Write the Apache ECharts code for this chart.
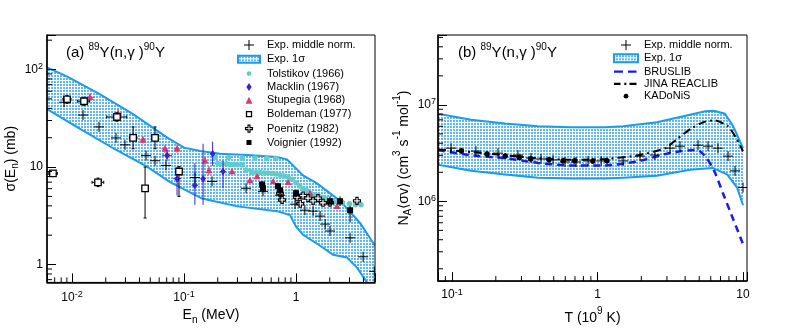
<!DOCTYPE html>
<html><head><meta charset="utf-8">
<script src="https://cdn.jsdelivr.net/npm/echarts@6/dist/echarts.min.js"></script>
<style>html,body{margin:0;padding:0;background:#fff}#c{width:789px;height:330px}</style>
</head><body><div id="c"></div>
<script>
const FONT = '"Liberation Sans", Arial, Helvetica, sans-serif';

// ---------- Panel (a): 89Y(n,g) cross section ----------
const rangeAX = [0.00598, 5.07];
const rangeAY = [0.656, 226];
const bandAUpper = [[0.00598,105],[0.009,85],[0.0178,55.7],[0.0351,34.9],[0.072,19.8],[0.1,15.8],[0.14,14.6],[0.21,13.7],[0.4,13.2],[0.67,12.7],[0.83,12.0],[0.94,10.4],[1.155,8.2],[1.54,6.8],[2.47,4.5],[3.73,2.67],[5.07,1.56]];
const bandALower = [[0.00598,39.3],[0.0118,24.6],[0.0237,15.4],[0.0467,10.1],[0.075,7.0],[0.145,4.75],[0.3,3.95],[0.676,3.53],[0.883,3.22],[1.0,2.45],[1.155,2.02],[1.64,1.56],[2.14,1.26],[2.85,1.18],[3.5,0.93],[4.3,0.656],[5.07,0.45]];
const expMiddleA = [[0.00849,46.2],[0.01254,34.1],[0.01741,25.8],[0.0247,19.9],[0.0297,16.9],[0.0458,13.1],[0.0551,11.6],[0.069,10.4],[0.1254,7.8],[0.178,7.12],[0.358,6.05],[0.507,5.63],[0.72,5.14],[0.98,4.16],[1.2,3.61],[1.42,3.53],[1.64,3.14],[1.82,2.6],[2.01,2.21],[3.04,1.88],[3.97,1.2],[5.0,0.85]];
const tolstikov = [[0.19,12.6],[0.25,12.5],[0.33,12.4],[0.43,12.4],[0.55,12.3],[0.66,12.2],
  [0.2,10.9],[0.22,10.8],[0.24,10.8],[0.26,10.7],[0.28,10.6],[0.3,10.6],[0.33,10.5],[0.36,9.3],[0.4,8.9],[0.44,8.8],[0.48,8.8],[0.52,8.7],[0.56,8.7],[0.61,8.6],[0.66,8.5],[0.72,8.3],[0.78,8.1],[0.85,7.9],[0.92,7.5],[1.0,6.9],[1.08,6.4],[1.16,6.0],[1.25,5.7],[1.35,5.4],[1.45,5.2],[1.57,5.1],[1.7,4.9],[1.85,4.7],[2.0,4.5],[2.2,4.4],[2.4,4.35],[2.6,4.3],[3.0,4.2],[3.4,4.1],[3.8,4.1]];
// [E, sigma, sigmaLow, sigmaHigh, ELow, EHigh]
const macklin = [[0.0705,13.1,11.5,15.0,0.064,0.078],[0.0866,7.6,5.1,10.1,0.08,0.094],[0.125,6.5,4.1,10.9,0.117,0.134],[0.148,7.6,4.1,17.3,0.14,0.157],[0.18,13.7,10.3,18.2,0.17,0.19],[0.223,9.0,6.05,11.6,0.21,0.236]];
const stupegia = [[0.01448,52.0,47,57,0.0132,0.0158],[0.02576,35.7,32,39.5,0.0237,0.028],[0.043,19.0,17.3,20.8,0.040,0.046],[0.0676,15.4,14,17,0.063,0.072],[0.0866,15.4,14,17,0.081,0.092],[0.154,11.6,10.5,12.8],[0.167,9.2,8.3,10.2],[0.268,9.0],[0.388,7.3],[0.449,8.0],[0.624,7.1],[0.849,7.0],[1.33,5.4],[1.74,4.26],[2.32,3.97]];
const boldeman = [[0.00676,8.6,8.1,9.1,0.0062,0.0074],[0.00902,49.5,45,54,0.0083,0.0098],[0.0128,47.3,43,52,0.0112,0.0143],[0.01706,6.97,6.3,7.7,0.0151,0.0192],[0.0252,32.6,29.5,36,0.0204,0.0308],[0.0351,19.9,15.4,25.8,0.0325,0.038],[0.0449,6.05,3.0,10.0,0.0425,0.0475],[0.0551,19.9,15.4,25.8,0.052,0.058],[0.0902,9.0,5.0,10.1,0.086,0.094]];
const poenitz = [[0.72,5.4],[0.75,4.6],[1.02,4.9],[1.09,4.2],[1.155,5.1],[1.28,4.8],[1.42,4.5],[1.57,4.8],[1.74,4.3],[2.01,4.3],[3.5,4.5]];
const voignier = [[0.497,6.64,6.1,7.2],[0.507,6.05,5.5,6.6],[0.691,6.34,5.8,6.9],[0.72,5.77,5.3,6.3],[1.0,5.38,4.9,5.9],[2.01,4.47,4.0,5.0],[2.47,4.47,4.0,5.0],[3.04,3.61,2.7,4.0]];

// ---------- Panel (b): reaction rate ----------
const rangeBX = [0.0801, 10.65];
const rangeBY = [1.49e5, 5.3e7];
const bandBUpper = [[0.0801,8.1e6],[0.135,7.0e6],[0.231,6.4e6],[0.39,6.0e6],[0.657,5.85e6],[1.13,5.85e6],[1.5,6.0e6],[2.56,6.6e6],[4.32,7.9e6],[5.5,8.6e6],[6.3,8.7e6],[7.5,8.1e6],[8.56,6.0e6],[10,3.56e6]];
const bandBLower = [[0.0801,2.39e6],[0.135,2.07e6],[0.231,1.9e6],[0.39,1.76e6],[0.657,1.72e6],[1.13,1.72e6],[1.5,1.76e6],[2.56,1.84e6],[4.32,2.12e6],[6.2,2.22e6],[7.8,1.89e6],[9.1,1.39e6],[10,9.1e5]];
const expMiddleB = [[0.0985,3.56e6],[0.146,3.32e6],[0.207,3.16e6],[0.284,3.02e6],[0.349,2.81e6],[0.409,2.75e6],[0.495,2.69e6],[0.598,2.56e6],[0.712,2.56e6],[0.861,2.62e6],[1.06,2.62e6],[1.5,2.62e6],[1.96,2.94e6],[2.48,3.02e6],[3.15,3.56e6],[3.69,3.73e6],[4.91,3.82e6],[5.75,3.73e6],[6.73,3.56e6],[7.89,2.94e6],[8.81,2.07e6],[10,1.39e6]];
const bruslib = [[0.0801,3.4e6],[0.135,3.0e6],[0.231,2.8e6],[0.39,2.5e6],[0.657,2.35e6],[1.13,2.35e6],[1.9,2.6e6],[3.2,3.2e6],[4.7,3.4e6],[5.0,3.35e6],[5.6,2.85e6],[6.4,2.0e6],[7.3,1.2e6],[8.6,6.4e5],[10,3.6e5]];
const jina = [[0.0801,3.45e6],[0.135,3.25e6],[0.231,3.0e6],[0.39,2.8e6],[0.657,2.7e6],[1.13,2.75e6],[1.9,3.0e6],[2.93,3.56e6],[3.57,4.5e6],[4.4,5.7e6],[5.48,6.7e6],[6.4,6.9e6],[7.9,6.0e6],[9.0,4.5e6],[10,3.3e6]];
const kadonis = [[0.116,3.34e6,3.1e6,3.6e6],[0.174,3.09e6,2.87e6,3.32e6],[0.232,2.95e6,2.74e6,3.17e6],[0.29,2.85e6,2.65e6,3.06e6],[0.348,2.75e6,2.56e6,2.95e6],[0.464,2.70e6,2.51e6,2.90e6],[0.58,2.64e6,2.46e6,2.84e6],[0.696,2.64e6,2.46e6,2.84e6],[0.928,2.62e6,2.44e6,2.82e6],[1.16,2.64e6,2.46e6,2.84e6]];

// ---------- minor tick values ----------
const minorAX = [0.007,0.008,0.009,0.02,0.03,0.04,0.05,0.06,0.07,0.08,0.09,0.2,0.3,0.4,0.5,0.6,0.7,0.8,0.9,2,3,4,5];
const minorAY = [0.7,0.8,0.9,2,3,4,5,6,7,8,9,20,30,40,50,60,70,80,90,200];
const minorBX = [0.09,0.2,0.3,0.4,0.5,0.6,0.7,0.8,0.9,2,3,4,5,6,7,8,9];
const minorBY = [2e5,3e5,4e5,5e5,6e5,7e5,8e5,9e5,2e6,3e6,4e6,5e6,6e6,7e6,8e6,9e6,2e7,3e7,4e7,5e7];

// ---------- styles ----------
const BAND_EDGE = '#1b9ce8';
function makePattern(){
  const c=document.createElement('canvas'); c.width=3; c.height=3;
  const g=c.getContext('2d'); g.fillStyle='#ffffff'; g.fillRect(0,0,3,3);
  g.fillStyle='#62b8f2'; g.fillRect(0,0,2,2);
  return c;
}
const PATTERN = {image: makePattern(), repeat: 'repeat'};

function marker(type, c, s, color){
  const h=s/2, x=c[0], y=c[1];
  switch(type){
    case 'plus': return [
      {type:'line',shape:{x1:x-h,y1:y,x2:x+h,y2:y},style:{stroke:color,lineWidth:1}},
      {type:'line',shape:{x1:x,y1:y-h,x2:x,y2:y+h},style:{stroke:color,lineWidth:1}}];
    case 'circle': return [{type:'circle',shape:{cx:x,cy:y,r:h},style:{fill:color}}];
    case 'diamond': return [{type:'polygon',shape:{points:[[x,y-h],[x+h*0.65,y],[x,y+h],[x-h*0.65,y]]},style:{fill:color}}];
    case 'triangle': return [{type:'polygon',shape:{points:[[x,y-h],[x+h,y+h*0.8],[x-h,y+h*0.8]]},style:{fill:color}}];
    case 'openSquare': return [{type:'rect',shape:{x:x-h,y:y-h,width:s,height:s},style:{fill:'#fff',stroke:color,lineWidth:1.3}}];
    case 'square': return [{type:'rect',shape:{x:x-h,y:y-h,width:s,height:s},style:{fill:color}}];
    case 'openCross': { const a=s/6; return [{type:'polygon',shape:{points:[[x-a,y-h],[x+a,y-h],[x+a,y-a],[x+h,y-a],[x+h,y+a],[x+a,y+a],[x+a,y+h],[x-a,y+h],[x-a,y+a],[x-h,y+a],[x-h,y-a],[x-a,y-a]]},style:{fill:'#fff',stroke:color,lineWidth:1.1}}]; }
  }
  return [];
}

function pointsSeries(name, data, gi, opt){
  return {
    name, type:'custom', xAxisIndex:gi, yAxisIndex:gi, clip:true, z:opt.z||4, silent:true,
    dimensions:['x','y','ylo','yhi','xlo','xhi'], encode:{x:0,y:1},
    itemStyle:{color:opt.color}, data,
    renderItem(params, api){
      const x=api.value(0), y=api.value(1);
      const c=api.coord([x,y]);
      const ch=[];
      const ylo=api.value(2), yhi=api.value(3), xlo=api.value(4), xhi=api.value(5);
      const es={stroke:opt.color, lineWidth:opt.ew||1};
      const cap=opt.cap||0;
      if (isFinite(ylo)&&isFinite(yhi)&&ylo>0){
        const a=api.coord([x,ylo]), b=api.coord([x,yhi]);
        ch.push({type:'line',shape:{x1:a[0],y1:a[1],x2:b[0],y2:b[1]},style:es});
        if(cap){ch.push({type:'line',shape:{x1:a[0]-cap,y1:a[1],x2:a[0]+cap,y2:a[1]},style:es});ch.push({type:'line',shape:{x1:b[0]-cap,y1:b[1],x2:b[0]+cap,y2:b[1]},style:es});}
      }
      if (isFinite(xlo)&&isFinite(xhi)&&xlo>0){
        const a=api.coord([xlo,y]), b=api.coord([xhi,y]);
        ch.push({type:'line',shape:{x1:a[0],y1:a[1],x2:b[0],y2:b[1]},style:es});
        if(cap){ch.push({type:'line',shape:{x1:a[0],y1:a[1]-cap,x2:a[0],y2:a[1]+cap},style:es});ch.push({type:'line',shape:{x1:b[0],y1:b[1]-cap,x2:b[0],y2:b[1]+cap},style:es});}
      }
      marker(opt.symbol, c, opt.size, opt.color).forEach(e=>ch.push(e));
      return {type:'group', children:ch};
    }
  };
}

function bandSeries(name, upper, lower, gi){
  return {
    name, type:'custom', xAxisIndex:gi, yAxisIndex:gi, clip:true, z:1, silent:true,
    encode:{x:0,y:1}, data:upper, itemStyle:{color:BAND_EDGE},
    renderItem(params, api){
      if (params.dataIndex!==0) return null;
      const up=upper.map(p=>api.coord(p));
      const lo=lower.map(p=>api.coord(p));
      const poly=up.concat(lo.slice().reverse());
      return {type:'group', children:[
        {type:'polygon',shape:{points:poly},style:{fill:PATTERN,stroke:null}},
        {type:'polyline',shape:{points:up},style:{fill:null,stroke:BAND_EDGE,lineWidth:2}},
        {type:'polyline',shape:{points:lo},style:{fill:null,stroke:BAND_EDGE,lineWidth:2}}
      ]};
    }
  };
}

function minorTickSeries(vals, gi, axis, fixed){
  return {type:'custom', xAxisIndex:gi, yAxisIndex:gi, silent:true, z:12, clip:false,
    data: vals.map(v=> axis==='x'?[v,fixed]:[fixed,v]), encode:{x:0,y:1},
    renderItem(params, api){
      const c=api.coord([api.value(0),api.value(1)]);
      const shape = axis==='x' ? {x1:c[0],y1:c[1],x2:c[0],y2:c[1]-5} : {x1:c[0],y1:c[1],x2:c[0]+5,y2:c[1]};
      return {type:'line', shape, style:{stroke:'#000',lineWidth:1}};
    }};
}

const LABEL_RICH = {
  b:{fontSize:12, color:'#000', fontWeight:'normal', verticalAlign:'top', padding:[3,0,3,0], fontFamily:FONT},
  s:{fontSize:9, color:'#000', fontWeight:'normal', verticalAlign:'top', padding:[1.5,0,0,0], fontFamily:FONT}
};
const NAME_RICH = {
  m:{fontSize:14, color:'#000', fontWeight:'normal', verticalAlign:'top', padding:[6,0,0,0], fontFamily:FONT},
  n:{fontSize:10, color:'#000', fontWeight:'normal', verticalAlign:'top', padding:[12.7,0,0,0], fontFamily:FONT},
  s:{fontSize:10, color:'#000', fontWeight:'normal', verticalAlign:'top', padding:[1,0,0,0], fontFamily:FONT}
};
const TITLE_RICH = {
  m:{fontSize:15, color:'#000', fontWeight:'normal', verticalAlign:'top', padding:[3,0,3,0], fontFamily:FONT},
  s:{fontSize:10, color:'#000', fontWeight:'normal', verticalAlign:'top', padding:[0.5,0,0,0], fontFamily:FONT}
};

function powLabel(v){
  const l=Math.log10(v), e=Math.round(l);
  if (Math.abs(l-e)>0.01) return '';
  if (e===0) return '{b|1}';
  if (e===1) return '{b|10}';
  return '{b|10}{s|'+e+'}';
}

function logAxis(gi, range, isX, extra){
  return Object.assign({
    type:'log', logBase:10, gridIndex:gi, min:range[0], max:range[1], z:10,
    axisLine:{show:true, onZero:false, lineStyle:{color:'#000', width:1.5}},
    axisTick:{show:true, inside:true, length:9, lineStyle:{color:'#000', width:1}},
    minorTick:{show:false}, splitLine:{show:false},
    axisLabel:{formatter:powLabel, rich:LABEL_RICH, color:'#000', margin: isX?6:4, hideOverlap:false},
    nameLocation:'middle', nameTextStyle:{rich:NAME_RICH, fontWeight:'normal'}
  }, extra||{});
}

const ICON_A = {
  plus:'path://M0,0 M26,12 M12.5,1 L13.5,1 L13.5,5.5 L18,5.5 L18,6.5 L13.5,6.5 L13.5,11 L12.5,11 L12.5,6.5 L8,6.5 L8,5.5 L12.5,5.5 Z',
  band:'path://M0,0 M26,12 M2,2.5 L24,2.5 L24,9.5 L2,9.5 Z',
  circle:'path://M0,0 M26,12 M15.4,6 A2.4,2.4 0 1 1 10.6,6 A2.4,2.4 0 1 1 15.4,6 Z',
  diamond:'path://M0,0 M26,12 M13,2 L15.6,6 L13,10 L10.4,6 Z',
  triangle:'path://M0,0 M26,12 M13,2.5 L16.5,9.5 L9.5,9.5 Z',
  openSquare:'path://M0,0 M26,12 M10.5,3.5 L15.5,3.5 L15.5,8.5 L10.5,8.5 Z',
  openCross:'path://M0,0 M26,12 M12,2.5 L14,2.5 L14,5 L16.5,5 L16.5,7 L14,7 L14,9.5 L12,9.5 L12,7 L9.5,7 L9.5,5 L12,5 Z',
  square:'path://M0,0 M26,12 M10.5,3.5 L15.5,3.5 L15.5,8.5 L10.5,8.5 Z'
};
const ICON_B = {
  plus:ICON_A.plus,
  band:'path://M0,0 M26,12 M1,2 L25,2 L25,10 L1,10 Z',
  dash:'path://M0,0 M26,12 M1,4.8 L10,4.8 L10,7.2 L1,7.2 Z M15,4.8 L23.5,4.8 L23.5,7.2 L15,7.2 Z',
  dashdot:'path://M0,0 M26,12 M1,4.9 L7.5,4.9 L7.5,7.1 L1,7.1 Z M11.3,4.9 L13.3,4.9 L13.3,7.1 L11.3,7.1 Z M16.5,4.9 L23.5,4.9 L23.5,7.1 L16.5,7.1 Z',
  circle:'path://M0,0 M26,12 M15.4,6 A2.4,2.4 0 1 1 10.6,6 A2.4,2.4 0 1 1 15.4,6 Z'
};

const COL = {tol:'#62cdc8', mac:'#3c1fcf', stu:'#d63b70', blk:'#000000', brus:'#1a1aea'};

const legendBase = {orient:'vertical', itemWidth:26, itemHeight:12, padding:0, selectedMode:false,
  symbolKeepAspect:false, textStyle:{fontSize:11, color:'#000', fontFamily:FONT, lineHeight:12}};

const option = {
  backgroundColor:'#fff', animation:false, textStyle:{fontFamily:FONT, fontWeight:'normal'},
  title:[
    {text:'{m|(a) }{s|89}{m|Y(n,γ )}{s|90}{m|Y}', left:66, top:42, padding:0, textStyle:{rich:TITLE_RICH, fontWeight:'normal', fontSize:15}},
    {text:'{m|(b) }{s|89}{m|Y(n,γ )}{s|90}{m|Y}', left:458, top:42, padding:0, textStyle:{rich:TITLE_RICH, fontWeight:'normal', fontSize:15}}
  ],
  grid:[
    {left:47, top:35, width:328, height:250, show:true, z:10, borderColor:'#000', borderWidth:1, backgroundColor:'transparent'},
    {left:438, top:35, width:309, height:250, show:true, z:10, borderColor:'#000', borderWidth:1, backgroundColor:'transparent'}
  ],
  xAxis:[
    logAxis(0, rangeAX, true, {name:'{m|E}{n|n}{m| (MeV)}', nameGap:14}),
    logAxis(1, rangeBX, true, {name:'{m|T (10}{s|9}{m| K)}', nameGap:14, axisLabel:{formatter:powLabel, rich:LABEL_RICH, color:'#000', margin:5, hideOverlap:false}})
  ],
  yAxis:[
    logAxis(0, rangeAY, false, {name:'{m|σ(E}{n|n}{m|) (mb)}', nameGap:23}),
    logAxis(1, rangeBY, false, {name:'{m|N}{n|A}{m|⟨σv⟩ (cm}{s|3}{m| s}{s|-1}{m| mol}{s|-1}{m|)}', nameGap:23, axisLabel:{formatter:powLabel, rich:LABEL_RICH, color:'#000', margin:2, hideOverlap:false}})
  ],
  legend:[
    Object.assign({}, legendBase, {left:235, top:39, itemGap:1.3, data:[
      {name:'Exp. middle norm.', icon:ICON_A.plus, itemStyle:{color:'#000', borderWidth:0}},
      {name:'Exp. 1σ', icon:ICON_A.band, itemStyle:{color:PATTERN, borderColor:BAND_EDGE, borderWidth:2}},
      {name:'Tolstikov (1966)', icon:ICON_A.circle, itemStyle:{color:COL.tol, borderWidth:0}},
      {name:'Macklin (1967)', icon:ICON_A.diamond, itemStyle:{color:COL.mac, borderWidth:0}},
      {name:'Stupegia (1968)', icon:ICON_A.triangle, itemStyle:{color:COL.stu, borderWidth:0}},
      {name:'Boldeman (1977)', icon:ICON_A.openSquare, itemStyle:{color:'#fff', borderColor:'#000', borderWidth:1.3}},
      {name:'Poenitz (1982)', icon:ICON_A.openCross, itemStyle:{color:'#fff', borderColor:'#000', borderWidth:1.1}},
      {name:'Voignier (1992)', icon:ICON_A.square, itemStyle:{color:'#000', borderWidth:0}}
    ]}),
    Object.assign({}, legendBase, {left:612, top:39, itemGap:0.3, data:[
      {name:'Exp. middle norm.', icon:ICON_B.plus, itemStyle:{color:'#000', borderWidth:0}},
      {name:'Exp. 1σ', icon:ICON_B.band, itemStyle:{color:PATTERN, borderColor:BAND_EDGE, borderWidth:2}},
      {name:'BRUSLIB', icon:ICON_B.dash, itemStyle:{color:COL.brus, borderWidth:0}},
      {name:'JINA REACLIB', icon:ICON_B.dashdot, itemStyle:{color:'#000', borderWidth:0}},
      {name:'KADoNiS', icon:ICON_B.circle, itemStyle:{color:'#000', borderWidth:0}}
    ]})
  ],
  series:[
    bandSeries('Exp. 1σ', bandAUpper, bandALower, 0),
    pointsSeries('Tolstikov (1966)', tolstikov, 0, {symbol:'circle', size:5.5, color:COL.tol, z:3}),
    pointsSeries('Stupegia (1968)', stupegia, 0, {symbol:'triangle', size:7, color:COL.stu, z:4}),
    pointsSeries('Macklin (1967)', macklin, 0, {symbol:'diamond', size:8, color:COL.mac, z:5}),
    pointsSeries('Boldeman (1977)', boldeman, 0, {symbol:'openSquare', size:6.5, color:'#000', cap:1.5, z:5}),
    pointsSeries('Poenitz (1982)', poenitz, 0, {symbol:'openCross', size:7, color:'#000', z:5}),
    pointsSeries('Voignier (1992)', voignier, 0, {symbol:'square', size:6, color:'#000', z:6}),
    pointsSeries('Exp. middle norm.', expMiddleA, 0, {symbol:'plus', size:10, color:'#000', z:6}),

    bandSeries('Exp. 1σ', bandBUpper, bandBLower, 1),
    {name:'BRUSLIB', type:'line', xAxisIndex:1, yAxisIndex:1, data:bruslib, showSymbol:false, symbol:'none', smooth:0.2, z:3, silent:true,
      lineStyle:{color:COL.brus, width:2.5, type:[7,5]}, itemStyle:{color:COL.brus}},
    {name:'JINA REACLIB', type:'line', xAxisIndex:1, yAxisIndex:1, data:jina, showSymbol:false, symbol:'none', smooth:0.2, z:3, silent:true,
      lineStyle:{color:'#000', width:2, type:[8,4,2,4]}, itemStyle:{color:'#000'}},
    pointsSeries('KADoNiS', kadonis, 1, {symbol:'circle', size:5.5, color:'#000', z:5}),
    pointsSeries('Exp. middle norm.', expMiddleB, 1, {symbol:'plus', size:10, color:'#000', z:6}),

    minorTickSeries(minorAX, 0, 'x', rangeAY[0]),
    minorTickSeries(minorAY, 0, 'y', rangeAX[0]),
    minorTickSeries(minorBX, 1, 'x', rangeBY[0]),
    minorTickSeries(minorBY, 1, 'y', rangeBX[0])
  ]
};

const chart = echarts.init(document.getElementById('c'), null, {renderer:'canvas'});
chart.setOption(option);
</script></body></html>
